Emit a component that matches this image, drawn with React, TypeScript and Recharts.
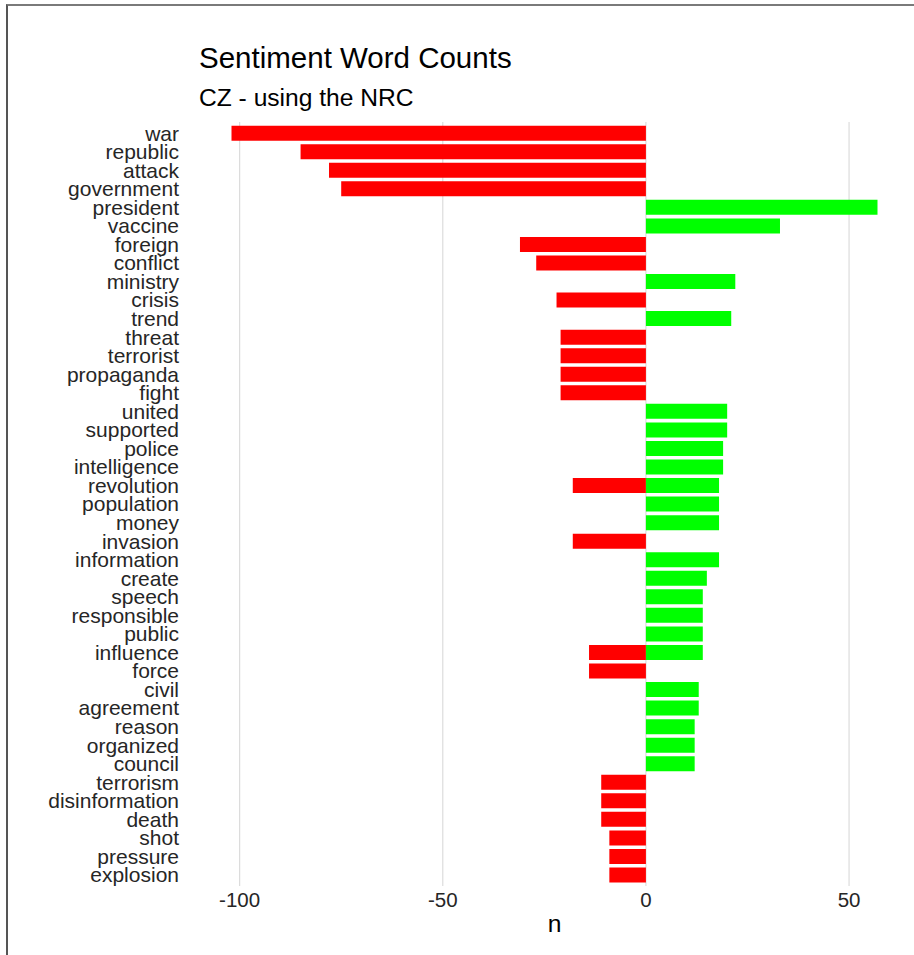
import React from 'react';
import { BarChart, Bar, XAxis, YAxis, CartesianGrid, Label } from 'recharts';

const words = [
  'war', 'republic', 'attack', 'government', 'president', 'vaccine', 'foreign', 'conflict',
  'ministry', 'crisis', 'trend', 'threat', 'terrorist', 'propaganda', 'fight', 'united',
  'supported', 'police', 'intelligence', 'revolution', 'population', 'money', 'invasion',
  'information', 'create', 'speech', 'responsible', 'public', 'influence', 'force', 'civil',
  'agreement', 'reason', 'organized', 'council', 'terrorism', 'disinformation', 'death',
  'shot', 'pressure', 'explosion',
];

const negativeCounts = [
  -102, -85, -78, -75, 0, 0, -31, -27,
  0, -22, 0, -21, -21, -21, -21, 0,
  0, 0, 0, -18, 0, 0, -18,
  0, 0, 0, 0, 0, -14, -14, 0,
  0, 0, 0, 0, -11, -11, -11,
  -9, -9, -9,
];

const positiveCounts = [
  0, 0, 0, 0, 57, 33, 0, 0,
  22, 0, 21, 0, 0, 0, 0, 20,
  20, 19, 19, 18, 18, 18, 0,
  18, 15, 14, 14, 14, 14, 0, 13,
  13, 12, 12, 12, 0, 0, 0,
  0, 0, 0,
];

const xTicks = [-100, -50, 0, 50];
const xDomain = [-110, 65];

const data = words.map((w, i) => ({
  word: w,
  negative: negativeCounts[i],
  positive: positiveCounts[i],
}));

const FONT = '"Liberation Sans", Arial, Helvetica, sans-serif';

const gridX = (props: any) => {
  const { xAxis, offset } = props;
  if (xAxis && typeof xAxis.scale === 'function') {
    return xTicks.map((t) => xAxis.scale(t));
  }
  return xTicks.map((t) => offset.left + ((t - xDomain[0]) / (xDomain[1] - xDomain[0])) * offset.width);
};

export default function App() {
  return (
    <div style={{ position: 'absolute', left: 0, top: 0, width: 914, height: 955, background: '#fff', fontFamily: FONT }}>
      <div style={{ position: 'absolute', left: 6, top: 4, width: 908, height: 951, borderTop: '2px solid #7a7a7a', borderLeft: '2px solid #555', boxSizing: 'border-box' }} />
      <div style={{ position: 'absolute', left: 199, top: 43, fontSize: 29.5, lineHeight: 1, color: '#000', whiteSpace: 'nowrap' }}>
        Sentiment Word Counts
      </div>
      <div style={{ position: 'absolute', left: 199, top: 86, fontSize: 24.6, lineHeight: 1, color: '#000', whiteSpace: 'nowrap' }}>
        CZ - using the NRC
      </div>
      <div style={{ position: 'absolute', left: 0, top: 0 }}>
        <BarChart
          width={914}
          height={955}
          data={data}
          layout="vertical"
          stackOffset="sign"
          barCategoryGap="10%"
          margin={{ top: 122, right: 4, bottom: 0, left: 0 }}
        >
          <CartesianGrid
            horizontal={false}
            vertical={true}
            stroke="#dcdcdc"
            strokeWidth={1.2}
            verticalCoordinatesGenerator={gridX}
          />
          <XAxis
            type="number"
            domain={xDomain}
            ticks={xTicks}
            allowDataOverflow
            axisLine={false}
            tickLine={false}
            tickSize={6}
            tickMargin={0}
            height={69}
            tick={{ fontSize: 20.5, fill: '#262626', fontFamily: FONT }}
          >
            <Label value="n" position="insideBottom" offset={23} style={{ fontSize: 24.6, fill: '#000', fontFamily: FONT }} />
          </XAxis>
          <YAxis
            type="category"
            dataKey="word"
            width={199}
            axisLine={false}
            tickLine={false}
            tickSize={6}
            tickMargin={14}
            interval={0}
            padding={{ top: 1.8, bottom: 1.8 }}
            tick={{ fontSize: 21, fill: '#262626', fontFamily: FONT }}
          />
          <Bar dataKey="negative" stackId="s" fill="#FF0000" isAnimationActive={false} />
          <Bar dataKey="positive" stackId="s" fill="#00FF00" isAnimationActive={false} />
        </BarChart>
      </div>
    </div>
  );
}
